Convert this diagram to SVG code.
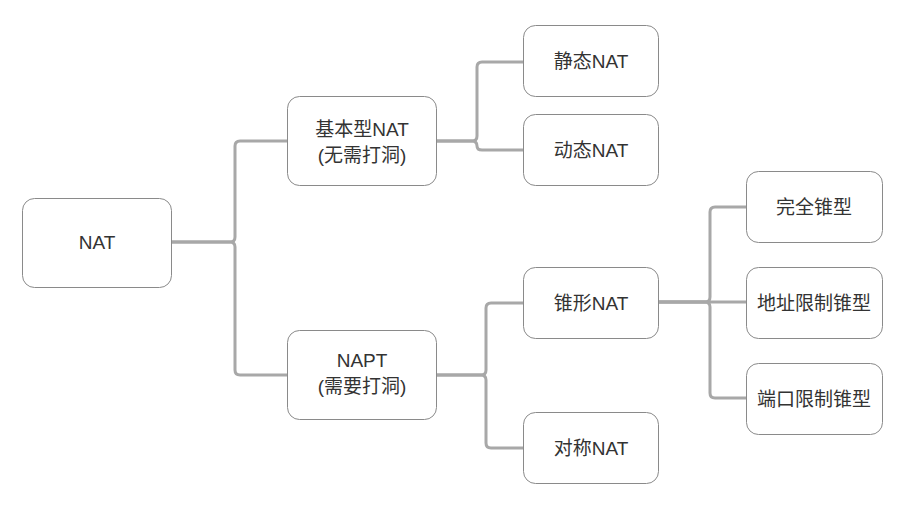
<svg xmlns="http://www.w3.org/2000/svg" width="920" height="509" viewBox="0 0 920 509">
<style>
.n rect{fill:#fff;stroke:#8a8a8a;stroke-width:1}
.n text{font-family:"Liberation Sans","Noto Sans CJK SC",sans-serif;font-size:19px;fill:#333;text-anchor:middle}
.c path{fill:none;stroke:#a8a8a8;stroke-width:3;stroke-linejoin:round}
</style>
<rect width="920" height="509" fill="#fff"/>
<g class="c" id="connectors">
<path d="M171,242 H230 Q235,242 235,237 V146 Q235,141 240,141 H287"/>
<path d="M171,242 H230 Q235,242 235,247 V370 Q235,375 240,375 H287"/>
<path d="M436,141 H472 Q477,141 477,136 V67 Q477,62 482,62 H523"/>
<path d="M436,141 H472 Q477,141 477,146 Q477,150 482,150 H523"/>
<path d="M436,375 H481 Q486,375 486,370 V308 Q486,303 491,303 H523"/>
<path d="M436,375 H481 Q486,375 486,380 V443 Q486,448 491,448 H523"/>
<path d="M658,302 H705 Q710,302 710,297 V212 Q710,207 715,207 H746"/>
<path d="M658,302 H746"/>
<path d="M658,302 H705 Q710,302 710,307 V393 Q710,398 715,398 H746"/>
</g>
<g class="n" id="nat"><rect x="22.5" y="198.5" width="149" height="89" rx="12"/><text x="97" y="249">NAT</text></g>
<g class="n" id="basic"><rect x="287.5" y="96.5" width="149" height="89" rx="12"/><text x="362" y="136">基本型NAT</text><text x="362" y="162">(无需打洞)</text></g>
<g class="n" id="napt"><rect x="287.5" y="330.5" width="149" height="89" rx="12"/><text x="362" y="367">NAPT</text><text x="362" y="393">(需要打洞)</text></g>
<g class="n" id="static"><rect x="523.5" y="25.5" width="135" height="71" rx="12"/><text x="591" y="68">静态NAT</text></g>
<g class="n" id="dynamic"><rect x="523.5" y="114.5" width="135" height="71" rx="12"/><text x="591" y="157">动态NAT</text></g>
<g class="n" id="cone"><rect x="523.5" y="267.5" width="135" height="71" rx="12"/><text x="591" y="310">锥形NAT</text></g>
<g class="n" id="symmetric"><rect x="523.5" y="412.5" width="135" height="71" rx="12"/><text x="591" y="455">对称NAT</text></g>
<g class="n" id="fullcone"><rect x="746.5" y="171.5" width="136" height="71" rx="12"/><text x="814" y="214">完全锥型</text></g>
<g class="n" id="addrcone"><rect x="746.5" y="267.5" width="136" height="71" rx="12"/><text x="814" y="310">地址限制锥型</text></g>
<g class="n" id="portcone"><rect x="746.5" y="363.5" width="136" height="71" rx="12"/><text x="814" y="406">端口限制锥型</text></g>
</svg>
